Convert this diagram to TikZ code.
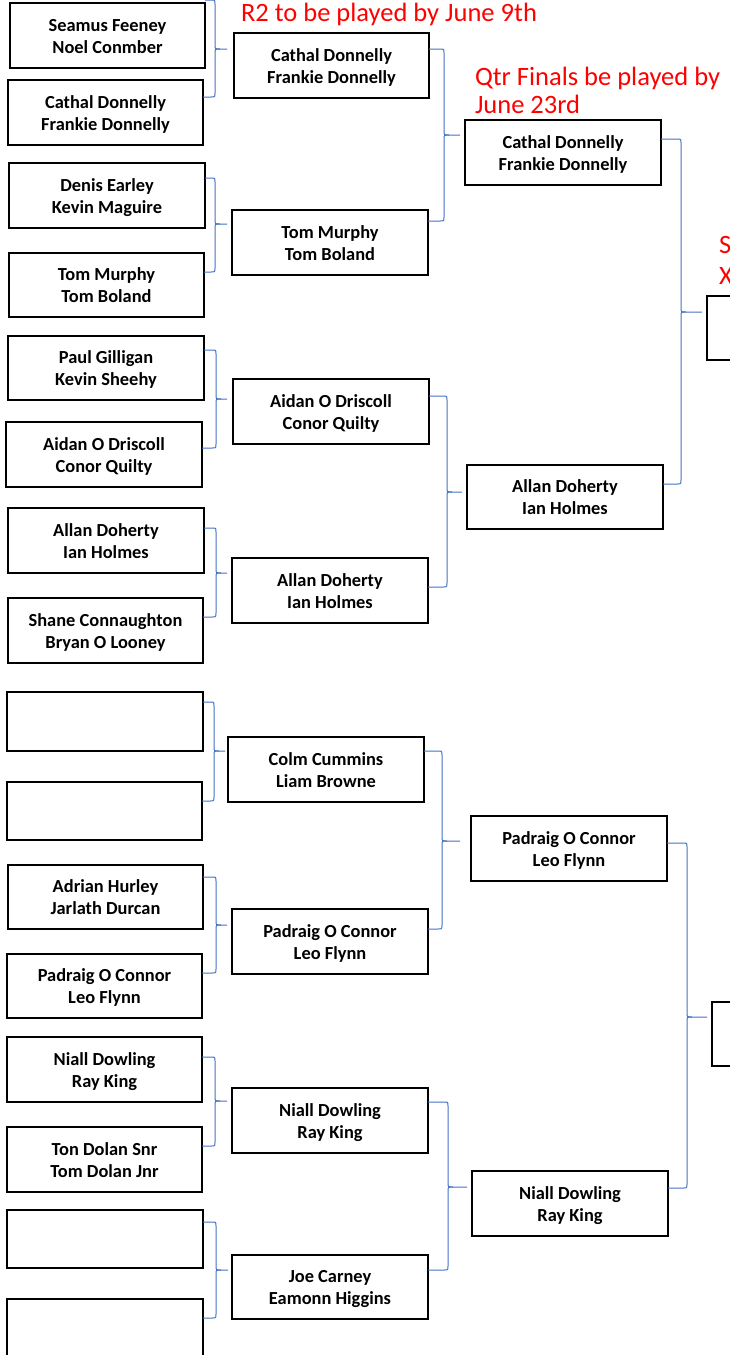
\documentclass[tikz,border=0pt]{standalone}
\usepackage{fontspec}
\setmainfont{Carlito}
\usetikzlibrary{calc}
\definecolor{brblue}{HTML}{4472C4}
\definecolor{brred}{HTML}{FF0000}
\tikzset{
  team/.style={draw=black, line width=1.5pt, inner sep=0pt, outer sep=0pt, align=center,
    text height=35pt, text depth=0pt,
    font=\bfseries\fontsize{18.4}{22}\selectfont, fill=white},
  brace/.style={draw=brblue, line width=1pt, line join=round},
  note/.style={text=brred, inner sep=0pt, outer sep=0pt, anchor=base west,
    font=\fontsize{26.5}{28}\selectfont}
}
\newcommand\bx[6]{\node[team, minimum width={#4-#2}, minimum height={#5-#3}] (#1) at ({(#2+#4)/2},{(#3+#5)/2}) {#6};}
% #1 top node, #2 top y, #3 bottom node, #4 bottom y, #5 vertical x, #6 target node, #7 tip y, #8 gap before target
\newcommand\brk[8]{%
  \draw[brace] (#1.east |- 0,#2) -- ({#5-4},#2) .. controls (#5,#2) .. (#5,{#2+4}) -- (#5,{#7-4})
     .. controls (#5,#7) .. ({#5+5},#7) -- ($(#6.west |- 0,#7)+(-#8,0)$);
  \draw[brace] ({#5+5},#7) .. controls (#5,#7) .. (#5,{#7+4}) -- (#5,{#4-4})
     .. controls (#5,#4) .. ({#5-4},#4) -- (#3.east |- 0,#4);
}
\begin{document}
\begin{tikzpicture}[x=1pt,y=-1pt]
\useasboundingbox (0,0) rectangle (730,1355);
\fill[white] (0,0) rectangle (730,1355);
\clip (0,0) rectangle (730,1355);
% Round 1
\bx{a1}{10}{3}{205}{68}{Seamus Feeney\\Noel Conmber}
\bx{a2}{8}{80}{203}{145}{Cathal Donnelly\\Frankie Donnelly}
\bx{a3}{9}{163}{205}{228}{Denis Earley\\Kevin Maguire}
\bx{a4}{9}{253}{204}{317}{Tom Murphy\\Tom Boland}
\bx{a5}{8}{336}{204}{400}{Paul Gilligan\\Kevin Sheehy}
\bx{a6}{6}{422}{202}{487}{Aidan O Driscoll\\Conor Quilty}
\bx{a7}{8}{508}{204}{573}{Allan Doherty\\Ian Holmes}
\bx{a8}{8}{598}{203}{663}{Shane Connaughton\\Bryan O Looney}
\bx{a9}{7}{692}{203}{751}{}
\bx{a10}{7}{782}{202}{840}{}
\bx{a11}{8}{865}{203}{929}{Adrian Hurley\\Jarlath Durcan}
\bx{a12}{7}{954}{202}{1018}{Padraig O Connor\\Leo Flynn}
\bx{a13}{7}{1037}{202}{1102}{Niall Dowling\\Ray King}
\bx{a14}{7}{1127}{202}{1192}{Ton Dolan Snr\\Tom Dolan Jnr}
\bx{a15}{7}{1210}{203}{1268}{}
\bx{a16}{7}{1299}{203}{1357}{}
% Round 2
\bx{b1}{234}{33}{429}{98}{Cathal Donnelly\\Frankie Donnelly}
\bx{b2}{232}{210}{428}{275}{Tom Murphy\\Tom Boland}
\bx{b3}{233}{379}{429}{444}{Aidan O Driscoll\\Conor Quilty}
\bx{b4}{232}{558}{428}{623}{Allan Doherty\\Ian Holmes}
\bx{b5}{228}{737}{424}{802}{Colm Cummins\\Liam Browne}
\bx{b6}{232}{909}{428}{974}{Padraig O Connor\\Leo Flynn}
\bx{b7}{232}{1088}{428}{1153}{Niall Dowling\\Ray King}
\bx{b8}{232}{1255}{428}{1319}{Joe Carney\\Eamonn Higgins}
% Quarter finals
\bx{c1}{465}{120}{661}{185}{Cathal Donnelly\\Frankie Donnelly}
\bx{c2}{467}{465}{663}{529}{Allan Doherty\\Ian Holmes}
\bx{c3}{471}{816}{667}{881}{Padraig O Connor\\Leo Flynn}
\bx{c4}{472}{1171}{668}{1236}{Niall Dowling\\Ray King}
% Semi finals (cut off at the right edge)
\bx{s1}{707}{296}{827}{360}{}
\bx{s2}{712}{1002}{832}{1066}{}
% Braces
\brk{a1}{0}{a2}{97}{215}{b1}{49}{7}
\brk{a3}{178}{a4}{272}{215}{b2}{224}{5}
\brk{a5}{350}{a6}{448}{216}{b3}{399}{6}
\brk{a7}{528}{a8}{617}{216}{b4}{573}{5}
\brk{a9}{702}{a10}{801}{214}{b5}{751}{3}
\brk{a11}{877}{a12}{973}{216}{b6}{925}{5}
\brk{a13}{1057}{a14}{1146}{215}{b7}{1101}{5}
\brk{a15}{1222}{a16}{1318}{216}{b8}{1270}{4}
\brk{b1}{49}{b2}{221}{444}{c1}{135}{5}
\brk{b3}{396}{b4}{587}{447}{c2}{492}{5}
\brk{b5}{751}{b6}{929}{442}{c3}{841}{11}
\brk{b7}{1102}{b8}{1270}{448}{c4}{1187}{5}
\brk{c1}{139}{c2}{484}{681}{s1}{312}{5}
\brk{c3}{843}{c4}{1188}{687}{s2}{1017}{5}
% Notes
\node[note] (n1) at (241,21) {R2 to be played by June 9th};
\node[note] (n2) at (475,85) {Qtr Finals be played by};
\node[note] (n3) at (475,113) {June 23rd};
\node[note] (n4) at (719,253) {S};
\node[note] (n5) at (719,284) {X};
\end{tikzpicture}
\end{document}
